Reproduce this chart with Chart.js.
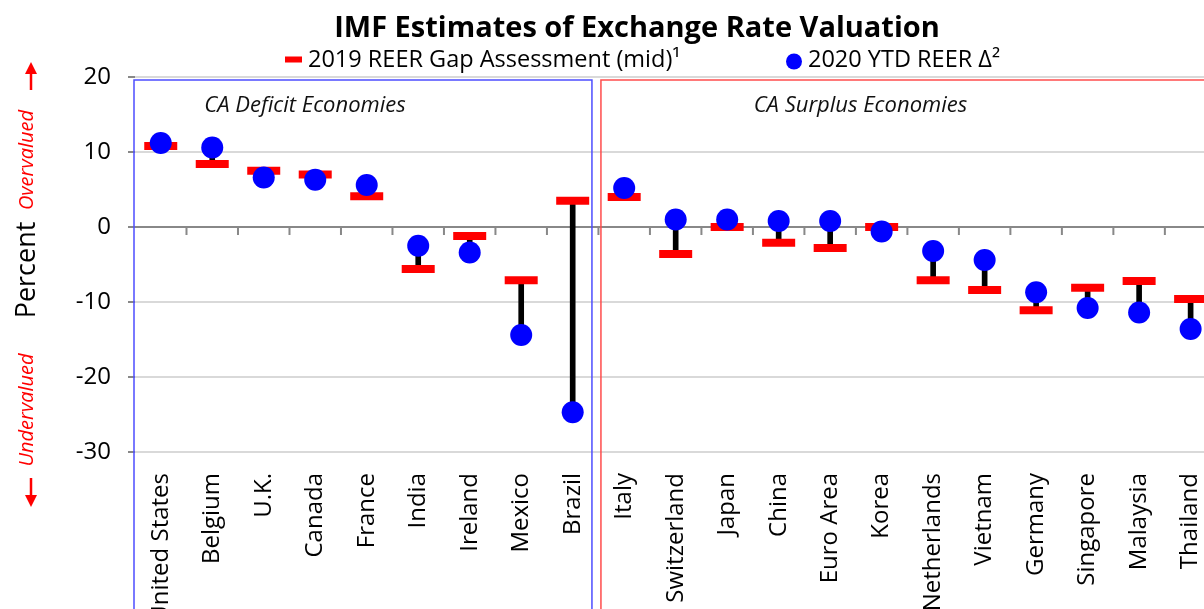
<!DOCTYPE html>
<html>
<head>
  <title>IMF Estimates of Exchange Rate Valuation</title>
  <script src="https://cdn.jsdelivr.net/npm/chart.js"></script>
  <style>
    html, body {
      margin: 0;
      padding: 0;
      overflow: hidden;
      background: #fff;
    }
    /* wider than the window on purpose: the right edge is cut off like the original */
    .wrap {
      position: relative;
      width: 1241px;
      height: 700px;
    }
  </style>
</head>
<body>
  <div class="wrap"><canvas id="reerChart"></canvas></div>

  <script>
    const chartTitle = 'IMF Estimates of Exchange Rate Valuation';
    const gapLabel = '2019 REER Gap Assessment (mid)¹';
    const reerLabel = '2020 YTD REER Δ²';

    const countries = ['United States', 'Belgium', 'U.K.', 'Canada', 'France', 'India', 'Ireland', 'Mexico', 'Brazil',
      'Italy', 'Switzerland', 'Japan', 'China', 'Euro Area', 'Korea', 'Netherlands', 'Vietnam', 'Germany',
      'Singapore', 'Malaysia', 'Thailand'];
    const gap2019 = [10.8, 8.4, 7.5, 7.0, 4.1, -5.6, -1.2, -7.1, 3.5,
      4.0, -3.6, 0.0, -2.1, -2.8, 0.0, -7.1, -8.4, -11.1, -8.1, -7.2, -9.6];
    const reer2020 = [11.2, 10.6, 6.6, 6.3, 5.6, -2.5, -3.4, -14.4, -24.7,
      5.2, 1.0, 1.0, 0.8, 0.8, -0.6, -3.2, -4.4, -8.7, -10.8, -11.4, -13.6];
    const deficitCount = 9; // first 9 countries are the CA deficit group

    const yMin = -30;
    const yMax = 20;
    const yStep = 10;

    const decorPlugin = {
      id: 'decor',
      beforeDatasetsDraw(chart) {
        // little tick marks hanging under the zero line
        const { ctx, scales: { x, y } } = chart;
        const y0 = y.getPixelForValue(0);
        ctx.save();
        ctx.strokeStyle = '#888';
        ctx.lineWidth = 2;
        ctx.beginPath();
        for (let i = 0; i < countries.length - 1; i++) {
          const px = (x.getPixelForValue(i) + x.getPixelForValue(i + 1)) / 2;
          ctx.moveTo(px, y0);
          ctx.lineTo(px, y0 + 8);
        }
        ctx.stroke();
        ctx.restore();
      },
      afterDraw(chart) {
        const { ctx, chartArea, scales: { x, y } } = chart;
        ctx.save();

        // group boxes
        const half = (x.getPixelForValue(1) - x.getPixelForValue(0)) / 2;
        const split = x.getPixelForValue(deficitCount - 1) + half;
        const top = y.getPixelForValue(yMax) + 3;
        const bottom = chart.height - 2;
        ctx.lineWidth = 1.5;
        ctx.strokeStyle = '#4d4dff';
        ctx.strokeRect(chartArea.left - 1, top, split - 6.5 - (chartArea.left - 1), bottom - top);
        ctx.strokeStyle = '#ff4d4d';
        ctx.strokeRect(split + 2.5, top, chartArea.right - 4 - (split + 2.5), bottom - top);

        ctx.fillStyle = '#111';
        ctx.font = 'italic 22px "Open Sans"';
        ctx.textAlign = 'center';
        ctx.textBaseline = 'middle';
        ctx.fillText('CA Deficit Economies', chartArea.left + 170, 106);
        ctx.fillText('CA Surplus Economies', split + 262, 106);

        // title
        ctx.fillStyle = '#000';
        ctx.font = 'bold 29px "Open Sans"';
        ctx.textBaseline = 'alphabetic';
        ctx.fillText(chartTitle, 637, 37);

        // legend
        ctx.textAlign = 'left';
        ctx.font = '23.5px "Open Sans"';
        ctx.fillStyle = '#ff0000';
        ctx.fillRect(285, 56.5, 17, 6);
        ctx.fillStyle = '#000';
        ctx.fillText(gapLabel, 308, 67);
        ctx.fillStyle = '#0000ff';
        ctx.beginPath();
        ctx.arc(794, 61.5, 8, 0, Math.PI * 2);
        ctx.fill();
        ctx.fillStyle = '#000';
        ctx.fillText(reerLabel, 808, 67);

        // y axis title with the over/under notes
        const sideText = (txt, font, color, cx, cy) => {
          ctx.save();
          ctx.translate(cx, cy);
          ctx.rotate(-Math.PI / 2);
          ctx.font = font;
          ctx.fillStyle = color;
          ctx.textAlign = 'center';
          ctx.textBaseline = 'alphabetic';
          ctx.fillText(txt, 0, 0);
          ctx.restore();
        };
        sideText('Percent', '27px "Open Sans"', '#000', 35, 270);
        sideText('Overvalued', 'italic 20px "Open Sans"', '#ff0000', 33, 160);
        sideText('Undervalued', 'italic 20px "Open Sans"', '#ff0000', 33, 410);

        const arrow = (ax, y1, y2) => {
          const dir = y2 < y1 ? -1 : 1;
          ctx.strokeStyle = '#ff0000';
          ctx.fillStyle = '#ff0000';
          ctx.lineWidth = 2.5;
          ctx.beginPath();
          ctx.moveTo(ax, y1);
          ctx.lineTo(ax, y2 - dir * 10);
          ctx.stroke();
          ctx.beginPath();
          ctx.moveTo(ax, y2);
          ctx.lineTo(ax - 6, y2 - dir * 12);
          ctx.lineTo(ax + 6, y2 - dir * 12);
          ctx.closePath();
          ctx.fill();
        };
        arrow(31, 90, 62);
        arrow(31, 478, 507);

        ctx.restore();
      }
    };

    Chart.defaults.font.family = "'Open Sans', sans-serif";
    Chart.defaults.color = '#000';

    const ctx = document.getElementById('reerChart').getContext('2d');
    const reerChart = new Chart(ctx, {
      data: {
        labels: countries,
        datasets: [
          {
            type: 'bar',
            label: 'range',
            data: countries.map((c, i) => [gap2019[i], reer2020[i]]),
            backgroundColor: '#000',
            barThickness: 5,
            order: 3
          },
          {
            type: 'line',
            label: gapLabel,
            data: gap2019,
            showLine: false,
            pointStyle: 'line',
            pointRadius: 16.5,
            pointHoverRadius: 16.5,
            pointBorderWidth: 8,
            pointBorderColor: '#ff0000',
            order: 2
          },
          {
            type: 'line',
            label: reerLabel,
            data: reer2020,
            showLine: false,
            pointStyle: 'circle',
            pointRadius: 11,
            pointHoverRadius: 11,
            pointBorderWidth: 0,
            pointBackgroundColor: '#0000ff',
            order: 1
          }
        ]
      },
      options: {
        responsive: true,
        maintainAspectRatio: false,
        animation: false,
        layout: {
          padding: { top: 77, right: 13.5, bottom: 0, left: 0 }
        },
        plugins: {
          legend: { display: false },
          tooltip: { enabled: false },
          title: { display: false }
        },
        scales: {
          x: {
            offset: true,
            grid: { display: false, drawTicks: false },
            border: { display: false },
            ticks: {
              autoSkip: false,
              minRotation: 90,
              maxRotation: 90,
              padding: 21,
              font: { size: 24 },
              color: '#000'
            },
            afterFit: (s) => { s.height = 248; }
          },
          y: {
            min: yMin,
            max: yMax,
            border: { display: false },
            grid: {
              color: (c) => c.tick && c.tick.value === 0 ? '#888' : '#d9d9d9',
              tickColor: '#888',
              lineWidth: 2,
              tickLength: 7
            },
            ticks: {
              stepSize: yStep,
              padding: 17,
              font: { size: 24 },
              color: '#000'
            },
            afterFit: (s) => { s.width = 135; }
          }
        }
      },
      plugins: [decorPlugin]
    });
  </script>
</body>
</html>
